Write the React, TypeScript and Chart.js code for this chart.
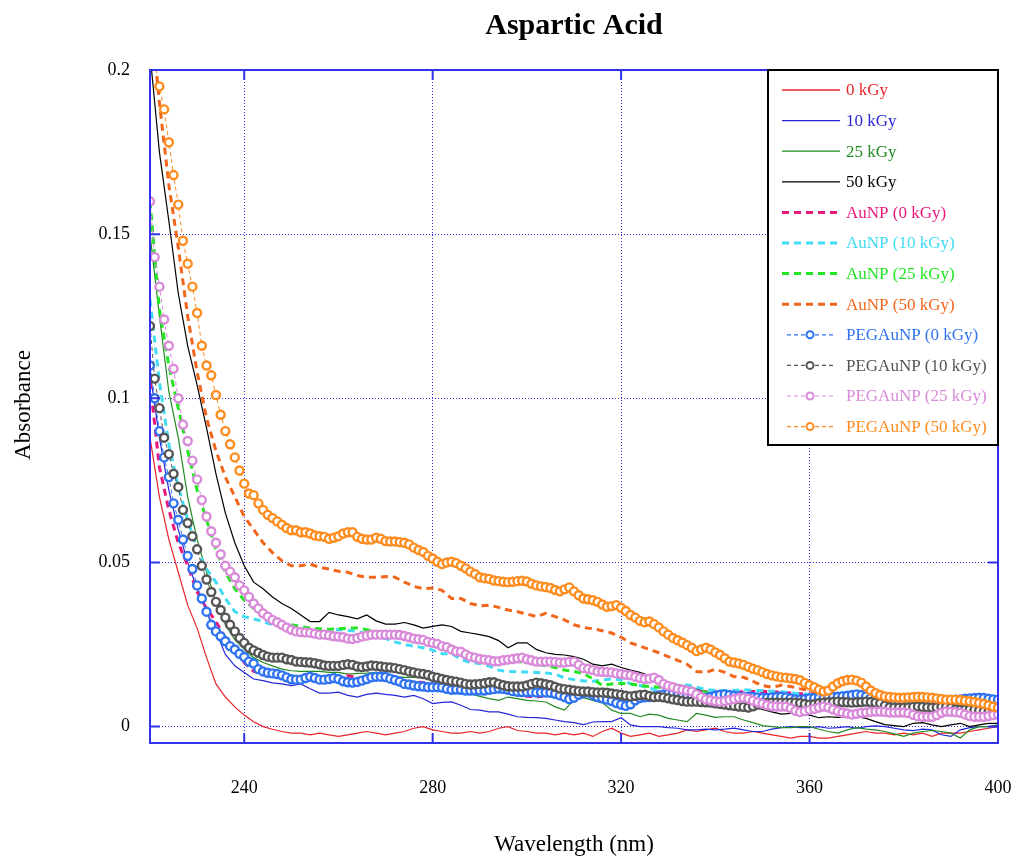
import React, { useEffect, useRef } from "react";
import { Chart, registerables } from "chart.js";

Chart.register(...registerables);

// ---------- data ----------
const WL_STEP2 = Array.from({ length: 91 }, (_, i) => 220 + 2 * i);
const WL_STEP1 = Array.from({ length: 181 }, (_, i) => 220 + i);

const X_TICKS = [240, 280, 320, 360, 400];
const Y_TICKS = [0, 0.05, 0.1, 0.15, 0.2];
const Y_TICK_LABELS = ["0", "0.05", "0.1", "0.15", "0.2"];

const KGY0 = [
  0.088, 0.07, 0.057, 0.047, 0.037, 0.03, 0.021, 0.013, 0.009, 0.006,
  0.0035, 0.0015, 0, -0.0008, -0.0015, -0.002, -0.002, -0.0025, -0.002, -0.0025,
  -0.003, -0.0025, -0.002, -0.0015, -0.002, -0.0025, -0.002, -0.0015, -0.0005, 0,
  -0.001, -0.0015, -0.002, -0.002, -0.0015, -0.002, -0.0015, -0.0005, 0, -0.0012,
  -0.0015, -0.002, -0.002, -0.0025, -0.002, -0.0025, -0.002, -0.003, -0.0015, -0.0005,
  -0.002, -0.003, -0.0025, -0.002, -0.003, -0.0025, -0.002, -0.001, -0.0015, -0.001,
  -0.0005, -0.0015, -0.002, -0.002, -0.0015, -0.002, -0.0025, -0.003, -0.0035, -0.003,
  -0.003, -0.0035, -0.0035, -0.003, -0.0025, -0.002, -0.0015, -0.002, -0.002, -0.0025,
  -0.002, -0.0025, -0.002, -0.003, -0.002, -0.002, -0.002, -0.0015, -0.001, -0.0005,
  0,
];
const KGY10 = [
  0.108, 0.088, 0.072, 0.06, 0.05, 0.042, 0.035, 0.029, 0.022, 0.0185,
  0.0165, 0.0145, 0.014, 0.0133, 0.013, 0.0125, 0.013, 0.0115, 0.0102, 0.0102,
  0.0105, 0.0095, 0.009, 0.0098, 0.0102, 0.0098, 0.0095, 0.009, 0.0095, 0.0085,
  0.007, 0.0074, 0.0075, 0.0065, 0.0052, 0.005, 0.0045, 0.0045, 0.0038, 0.003,
  0.0028, 0.0027, 0.0025, 0.002, 0.0015, 0.0012, 0.0006, 0.0014, 0.0015, 0.0015,
  0.0027, 0.0005, 0, 0, 0, -0.0003, -0.0005, -0.001, -0.001, -0.0008,
  -0.001, -0.0008, -0.0005, -0.001, -0.0015, -0.0015, -0.0008, -0.0003, 0, -0.0003,
  -0.0003, 0, -0.0005, -0.0003, 0, -0.0005, 0, 0.0002, 0, -0.0005,
  -0.001, -0.0012, -0.0008, -0.001, -0.0025, -0.003, -0.001, -0.0003, 0, 0,
  0,
];
const KGY25 = [
  0.15, 0.125, 0.102, 0.088, 0.07, 0.057, 0.047, 0.038, 0.031, 0.0265,
  0.0235, 0.021, 0.0195, 0.0185, 0.0175, 0.017, 0.0168, 0.0168, 0.0168, 0.0165,
  0.0165, 0.016, 0.0162, 0.0163, 0.0165, 0.016, 0.0152, 0.015, 0.015, 0.0148,
  0.0138, 0.013, 0.012, 0.011, 0.01, 0.0092, 0.0085, 0.008, 0.009, 0.0085,
  0.008, 0.0078, 0.0075, 0.006, 0.005, 0.0082, 0.0088, 0.008, 0.0073, 0.005,
  0.004, 0.004, 0.003, 0.0038, 0.0035, 0.0025, 0.002, 0.0015, 0.004, 0.0035,
  0.0028, 0.003, 0.003, 0.002, 0.0012, 0.0003, 0, -0.0003, -0.0003, 0,
  0, -0.0008, -0.0015, -0.002, -0.001, -0.0003, -0.0008, -0.001, -0.0015, -0.0022,
  -0.003, -0.002, -0.0015, -0.0012, -0.0015, -0.002, -0.0035, -0.001, 0, 0,
  0.0005,
];
const KGY50 = [
  0.205, 0.175, 0.154, 0.132, 0.116, 0.104, 0.091, 0.077, 0.065, 0.056,
  0.049, 0.044, 0.042, 0.0395, 0.0375, 0.036, 0.034, 0.032, 0.032, 0.0348,
  0.034, 0.0335, 0.0328, 0.034, 0.0322, 0.0312, 0.0312, 0.0317, 0.031, 0.03,
  0.0305, 0.031, 0.0305, 0.029, 0.0285, 0.028, 0.0274, 0.0262, 0.024, 0.0255,
  0.0255, 0.0235, 0.0225, 0.022, 0.0218, 0.0213, 0.0205, 0.019, 0.0185, 0.019,
  0.018, 0.0172, 0.0165, 0.0155, 0.0145, 0.0135, 0.0128, 0.0122, 0.0115, 0.0105,
  0.0095, 0.0085, 0.0075, 0.0068, 0.006, 0.0052, 0.0045, 0.0038, 0.004, 0.0042,
  0.0035, 0.0027, 0.003, 0.0028, 0.003, 0.003, 0.0025, 0.0015, 0.0006, 0.0003,
  0, 0.001, 0.0012, 0.0005, 0, 0.0005, 0.001, 0, 0.0005, 0.001,
  0.001,
];
const AUNP0 = [
  0.105, 0.079, 0.066, 0.056, 0.049, 0.041, 0.036, 0.032, 0.027, 0.023,
  0.0195, 0.0168, 0.0162, 0.0158, 0.0155, 0.0152, 0.015, 0.015, 0.015, 0.015,
  0.015, 0.0155, 0.015, 0.0146, 0.0145, 0.0142, 0.014, 0.0138, 0.0136, 0.0134,
  0.013, 0.0128, 0.0126, 0.0124, 0.0122, 0.012, 0.0118, 0.011, 0.0105, 0.0098,
  0.0092, 0.009, 0.0095, 0.01, 0.0105, 0.011, 0.0112, 0.011, 0.0088, 0.0076,
  0.008, 0.0088, 0.0095, 0.01, 0.0102, 0.0105, 0.0105, 0.0106, 0.0107, 0.0107,
  0.0106, 0.0105, 0.0105, 0.0106, 0.0107, 0.0107, 0.0106, 0.0104, 0.0102, 0.01,
  0.0099, 0.0098, 0.0097, 0.0092, 0.0087, 0.0082, 0.0078, 0.0076, 0.0074, 0.0072,
  0.007, 0.0068, 0.0066, 0.0064, 0.0062, 0.0061, 0.006, 0.0058, 0.0056, 0.0052,
  0.005,
];
const AUNP10 = [
  0.13, 0.105, 0.086, 0.073, 0.063, 0.054, 0.048, 0.044, 0.039, 0.035,
  0.0335, 0.0328, 0.032, 0.031, 0.0303, 0.03, 0.0296, 0.029, 0.0287, 0.029,
  0.0296, 0.0293, 0.029, 0.0282, 0.0272, 0.0268, 0.0258, 0.025, 0.0245, 0.024,
  0.0233, 0.0222, 0.0222, 0.0205, 0.0195, 0.0192, 0.0184, 0.0172, 0.0168, 0.0167,
  0.0166, 0.0165, 0.0163, 0.016, 0.0148, 0.0143, 0.0139, 0.0138, 0.0142, 0.0145,
  0.0143, 0.013, 0.0125, 0.0118, 0.0108, 0.0108, 0.012, 0.0127, 0.012, 0.0113,
  0.011, 0.011, 0.011, 0.0112, 0.011, 0.011, 0.0108, 0.0106, 0.0103, 0.01,
  0.0098, 0.0098, 0.01, 0.0102, 0.0104, 0.0102, 0.01, 0.0098, 0.0098, 0.0097,
  0.0097, 0.0098, 0.0097, 0.0095, 0.0093, 0.009, 0.009, 0.009, 0.0089, 0.0088,
  0.0088,
];
const AUNP25 = [
  0.16, 0.127, 0.11, 0.097, 0.084, 0.072, 0.063, 0.054, 0.047, 0.042,
  0.0385, 0.036, 0.034, 0.0325, 0.0315, 0.031, 0.0305, 0.03, 0.0298, 0.0296,
  0.0298, 0.03, 0.03, 0.0295, 0.029, 0.0285, 0.0278, 0.027, 0.0262, 0.0255,
  0.025, 0.0242, 0.0235, 0.0228, 0.0222, 0.0215, 0.021, 0.0205, 0.02, 0.0198,
  0.0196, 0.0192, 0.0185, 0.018, 0.0172, 0.0168, 0.0162, 0.0145, 0.0125, 0.013,
  0.0132, 0.013, 0.0125, 0.0122, 0.012, 0.0118, 0.0115, 0.0112, 0.011, 0.0105,
  0.01, 0.0099, 0.0098, 0.0098, 0.0098, 0.0098, 0.0096, 0.0094, 0.0091, 0.0089,
  0.0088, 0.0087, 0.0086, 0.0085, 0.0084, 0.0083, 0.0081, 0.008, 0.0078, 0.0076,
  0.0074, 0.0072, 0.007, 0.0068, 0.0065, 0.0062, 0.006, 0.0058, 0.0058, 0.0058,
  0.0058,
];
const AUNP50 = [
  0.22, 0.19, 0.165, 0.146, 0.125, 0.108, 0.094, 0.084, 0.076, 0.07,
  0.064, 0.06, 0.056, 0.053, 0.0505, 0.049, 0.049, 0.0495, 0.0485, 0.048,
  0.0473, 0.047, 0.046, 0.0455, 0.0455, 0.0457, 0.0455, 0.044, 0.0427, 0.042,
  0.0422, 0.0415, 0.039, 0.039, 0.0375, 0.0368, 0.037, 0.0363, 0.0355, 0.035,
  0.0343, 0.0335, 0.0345, 0.0335, 0.0325, 0.031, 0.0302, 0.0298, 0.0292, 0.0285,
  0.0272, 0.0255, 0.0245, 0.0235, 0.0225, 0.0213, 0.0202, 0.019, 0.0168, 0.0165,
  0.0175, 0.0165, 0.0152, 0.015, 0.0138, 0.0125, 0.012, 0.0126, 0.0122, 0.0115,
  0.011, 0.0102, 0.0098, 0.01, 0.0103, 0.0098, 0.0093, 0.009, 0.0088, 0.0086,
  0.0084, 0.0082, 0.0081, 0.008, 0.0078, 0.0076, 0.0075, 0.0075, 0.0074, 0.0073,
  0.0073,
];
const PEG0 = [
  0.11, 0.1, 0.09, 0.082, 0.076, 0.068, 0.063, 0.057, 0.052, 0.048,
  0.043, 0.039, 0.035, 0.031, 0.029, 0.0275, 0.026, 0.0245, 0.0235, 0.0222,
  0.0212, 0.0198, 0.0192, 0.0175, 0.0168, 0.0164, 0.0162, 0.016, 0.0156, 0.015,
  0.0144, 0.0143, 0.0143, 0.0148, 0.0152, 0.0148, 0.0143, 0.0143, 0.0145, 0.0148,
  0.0145, 0.0138, 0.0135, 0.0134, 0.0136, 0.014, 0.0145, 0.015, 0.0152, 0.0152,
  0.0151, 0.0146, 0.0142, 0.0137, 0.013, 0.0128, 0.0125, 0.0123, 0.0122, 0.012,
  0.012, 0.012, 0.0119, 0.0115, 0.0112, 0.0113, 0.0112, 0.011, 0.011, 0.011,
  0.011, 0.011, 0.0112, 0.0114, 0.0116, 0.0115, 0.0112, 0.0108, 0.0106, 0.0105,
  0.0105, 0.0105, 0.0104, 0.0104, 0.0104, 0.0103, 0.01, 0.0095, 0.009, 0.0084,
  0.0088, 0.0097, 0.0102, 0.0104, 0.0097, 0.009, 0.0086, 0.0082, 0.0078, 0.0072,
  0.0067, 0.0063, 0.0068, 0.008, 0.0087, 0.0089, 0.009, 0.0092, 0.0095, 0.0098,
  0.01, 0.0102, 0.0104, 0.0098, 0.0094, 0.0091, 0.009, 0.0089, 0.0088, 0.0091,
  0.0094, 0.0097, 0.0098, 0.0096, 0.0094, 0.0092, 0.0091, 0.009, 0.009, 0.0089,
  0.0088, 0.0088, 0.0089, 0.009, 0.0091, 0.0089, 0.0086, 0.0083, 0.0082, 0.0084,
  0.0086, 0.0087, 0.0088, 0.0089, 0.009, 0.009, 0.0091, 0.0092, 0.0094, 0.0096,
  0.0098, 0.0096, 0.0092, 0.0088, 0.0084, 0.0082, 0.008, 0.0078, 0.0077, 0.0076,
  0.0075, 0.0074, 0.0073, 0.0074, 0.0075, 0.0076, 0.0076, 0.0077, 0.0079, 0.008,
  0.0081, 0.0082, 0.0083, 0.0085, 0.0086, 0.0087, 0.0088, 0.0087, 0.0085, 0.0083,
  0.0082,
];
const PEG10 = [
  0.122, 0.106, 0.097, 0.088, 0.083, 0.077, 0.073, 0.066, 0.062, 0.058,
  0.054, 0.049, 0.0448, 0.041, 0.038, 0.0355, 0.0332, 0.031, 0.029, 0.027,
  0.0255, 0.024, 0.0232, 0.0225, 0.0218, 0.0213, 0.021, 0.021, 0.021, 0.0205,
  0.0203, 0.0198, 0.0197, 0.0196, 0.0195, 0.0193, 0.019, 0.0186, 0.0185, 0.0185,
  0.0185, 0.0188, 0.019, 0.0188, 0.0183, 0.0181, 0.0183, 0.0186, 0.0185, 0.0183,
  0.0181, 0.018, 0.0178, 0.0175, 0.0172, 0.0168, 0.0165, 0.0162, 0.016, 0.0157,
  0.0152, 0.0149, 0.0145, 0.0142, 0.0139, 0.0137, 0.0134, 0.013, 0.0128, 0.0129,
  0.013, 0.0132, 0.0135, 0.0135, 0.013, 0.0126, 0.0123, 0.0122, 0.0122, 0.0122,
  0.0125, 0.013, 0.0134, 0.0132, 0.0129, 0.0126, 0.0121, 0.0116, 0.0114, 0.0112,
  0.011, 0.0108, 0.0107, 0.0107, 0.0105, 0.0104, 0.0104, 0.0103, 0.0101, 0.0099,
  0.0097, 0.0094, 0.0092, 0.0094, 0.0096, 0.0097, 0.0093, 0.009, 0.0091, 0.0089,
  0.0086, 0.0083, 0.0081, 0.0078, 0.0076, 0.0076, 0.0076, 0.0075, 0.0074, 0.0073,
  0.0071, 0.0069, 0.0067, 0.0065, 0.0063, 0.0061, 0.006, 0.0058, 0.0062, 0.0067,
  0.0071, 0.0073, 0.0073, 0.0073, 0.0073, 0.0073, 0.0073, 0.0073, 0.0072, 0.0069,
  0.0067, 0.0068, 0.0071, 0.0073, 0.0074, 0.0075, 0.0076, 0.0075, 0.0074, 0.0073,
  0.0074, 0.0075, 0.0076, 0.0075, 0.0073, 0.0071, 0.0064, 0.0059, 0.0058, 0.0058,
  0.0058, 0.0059, 0.006, 0.0061, 0.006, 0.0059, 0.0058, 0.0059, 0.006, 0.0061,
  0.0057, 0.0053, 0.0052, 0.0052, 0.0052, 0.0051, 0.0049, 0.0047, 0.0046, 0.0046,
  0.0046,
];
const PEG25 = [
  0.16, 0.143, 0.134, 0.124, 0.116, 0.109, 0.1, 0.092, 0.087, 0.081,
  0.0753, 0.069, 0.064, 0.0595, 0.056, 0.0525, 0.049, 0.0472, 0.0455, 0.043,
  0.0415, 0.0395, 0.0375, 0.036, 0.0345, 0.0335, 0.0325, 0.0318, 0.031, 0.0302,
  0.0295, 0.029, 0.0288, 0.0287, 0.0286, 0.0283, 0.028, 0.028, 0.0278, 0.0275,
  0.0274, 0.0272, 0.0268, 0.0267, 0.027, 0.0274, 0.0277, 0.028, 0.028, 0.028,
  0.028, 0.028, 0.028, 0.0279, 0.0276, 0.0272, 0.0268, 0.0266, 0.0264, 0.0258,
  0.0255, 0.0252, 0.0245, 0.0242, 0.0235, 0.0229, 0.0228, 0.022, 0.0213, 0.021,
  0.0206, 0.0204, 0.0202, 0.0199, 0.0199, 0.0202, 0.0204, 0.0206, 0.0208, 0.021,
  0.0205, 0.0202, 0.0198, 0.0198, 0.0198, 0.0198, 0.0197, 0.0195, 0.0195, 0.0197,
  0.0198, 0.0188, 0.0178, 0.0176, 0.0172, 0.0168, 0.0167, 0.0166, 0.0165, 0.0162,
  0.016, 0.0158, 0.0156, 0.0152, 0.0148, 0.0145, 0.0146, 0.0149, 0.0142, 0.013,
  0.0124, 0.012, 0.0115, 0.0112, 0.011, 0.0107, 0.0098, 0.009, 0.0083, 0.008,
  0.0077, 0.0076, 0.0078, 0.0081, 0.0084, 0.0087, 0.0088, 0.0085, 0.0079, 0.0074,
  0.007, 0.0065, 0.0062, 0.0061, 0.0061, 0.0061, 0.0056, 0.0048, 0.0044, 0.0047,
  0.0051, 0.0054, 0.0058, 0.0061, 0.0058, 0.0052, 0.0047, 0.0043, 0.004, 0.0037,
  0.0039, 0.0042, 0.0043, 0.0045, 0.0046, 0.0046, 0.0045, 0.0043, 0.0043, 0.0043,
  0.0043, 0.0041, 0.0036, 0.0031, 0.003, 0.003, 0.003, 0.0035, 0.0042, 0.0046,
  0.0045, 0.0044, 0.0042, 0.0037, 0.0032, 0.003, 0.003, 0.003, 0.0032, 0.0035,
  0.0037,
];
const PEG50 = [
  0.215, 0.203, 0.195, 0.188, 0.178, 0.168, 0.159, 0.148, 0.141, 0.134,
  0.126, 0.116, 0.11, 0.107, 0.101, 0.095, 0.09, 0.086, 0.082, 0.078,
  0.074, 0.071, 0.0705, 0.068, 0.066, 0.0645, 0.0635, 0.0625, 0.0615, 0.0605,
  0.0598, 0.0598, 0.0592, 0.0592, 0.0588, 0.0582, 0.058, 0.0578, 0.0572, 0.0575,
  0.058, 0.0588, 0.0592, 0.0592, 0.0578, 0.0572, 0.057, 0.057, 0.0575, 0.0572,
  0.0565, 0.0564, 0.0564, 0.0562, 0.056, 0.0555, 0.0545, 0.0538, 0.0532, 0.052,
  0.0512, 0.0502, 0.0495, 0.05, 0.0502, 0.0498, 0.049, 0.0482, 0.0472, 0.0465,
  0.0455, 0.0452, 0.045, 0.0445, 0.0443, 0.0441, 0.044, 0.0441, 0.0443, 0.0444,
  0.0442, 0.0435, 0.043, 0.0427, 0.0425, 0.0422, 0.0416, 0.0412, 0.0418, 0.0424,
  0.0412, 0.04, 0.039, 0.0388, 0.0385, 0.038, 0.0372, 0.0365, 0.0367, 0.037,
  0.0362, 0.0352, 0.034, 0.0332, 0.0322, 0.0318, 0.032, 0.0312, 0.0302, 0.029,
  0.028, 0.027, 0.0263, 0.0256, 0.0248, 0.024, 0.023, 0.0235, 0.024, 0.0235,
  0.0226, 0.0218, 0.0208, 0.0198, 0.0195, 0.0192, 0.0188, 0.0182, 0.0176, 0.0172,
  0.0166, 0.016, 0.0156, 0.0153, 0.015, 0.0149, 0.0147, 0.0145, 0.0141, 0.0133,
  0.0126, 0.012, 0.0112, 0.0107, 0.011, 0.0122, 0.0132, 0.0138, 0.0142, 0.0143,
  0.014, 0.0134, 0.0122, 0.011, 0.0102, 0.0096, 0.0092, 0.009, 0.0089, 0.0088,
  0.0088, 0.0089, 0.009, 0.0091, 0.009, 0.0089, 0.0088, 0.0086, 0.0084, 0.0082,
  0.0082, 0.0082, 0.0081, 0.0079, 0.0077, 0.0075, 0.0072, 0.0069, 0.0065, 0.0061,
  0.0058,
];

type Kind = "solid" | "dash" | "marker";
const SERIES: { label: string; x: number[]; y: number[]; color: string; kind: Kind }[] = [
  { label: "0 kGy", x: WL_STEP2, y: KGY0, color: "#e8252b", kind: "solid" },
  { label: "10 kGy", x: WL_STEP2, y: KGY10, color: "#2626d6", kind: "solid" },
  { label: "25 kGy", x: WL_STEP2, y: KGY25, color: "#238a23", kind: "solid" },
  { label: "50 kGy", x: WL_STEP2, y: KGY50, color: "#000000", kind: "solid" },
  { label: "AuNP (0 kGy)", x: WL_STEP2, y: AUNP0, color: "#e8177c", kind: "dash" },
  { label: "AuNP (10 kGy)", x: WL_STEP2, y: AUNP10, color: "#3fdcf4", kind: "dash" },
  { label: "AuNP (25 kGy)", x: WL_STEP2, y: AUNP25, color: "#22e622", kind: "dash" },
  { label: "AuNP (50 kGy)", x: WL_STEP2, y: AUNP50, color: "#f2661c", kind: "dash" },
  { label: "PEGAuNP (0 kGy)", x: WL_STEP1, y: PEG0, color: "#2f73f2", kind: "marker" },
  { label: "PEGAuNP (10 kGy)", x: WL_STEP1, y: PEG10, color: "#555555", kind: "marker" },
  { label: "PEGAuNP (25 kGy)", x: WL_STEP1, y: PEG25, color: "#d98ad9", kind: "marker" },
  { label: "PEGAuNP (50 kGy)", x: WL_STEP1, y: PEG50, color: "#ff8c1e", kind: "marker" },
];

const FONT = "'Liberation Serif', 'Times New Roman', serif";
const AXIS_BLUE = "#3232ec";

function drawLegend(ctx: CanvasRenderingContext2D) {
  const bx = 768, by = 70, bw = 230, bh = 375;
  ctx.save();
  ctx.fillStyle = "#ffffff";
  ctx.fillRect(bx, by, bw, bh);
  ctx.strokeStyle = "#000000";
  ctx.lineWidth = 2;
  ctx.strokeRect(bx, by, bw, bh);
  ctx.font = `17px ${FONT}`;
  ctx.textBaseline = "middle";
  ctx.textAlign = "left";
  SERIES.forEach((s, i) => {
    const y = 90 + i * 30.6;
    ctx.strokeStyle = s.color;
    ctx.beginPath();
    if (s.kind === "solid") {
      ctx.lineWidth = 1.3;
      ctx.setLineDash([]);
      ctx.moveTo(782, y);
      ctx.lineTo(840, y);
      ctx.stroke();
    } else if (s.kind === "dash") {
      ctx.lineWidth = 3;
      ctx.setLineDash([7, 5]);
      ctx.moveTo(782, y);
      ctx.lineTo(840, y);
      ctx.stroke();
    } else {
      ctx.lineWidth = 1.2;
      ctx.setLineDash([4, 3]);
      ctx.moveTo(787, y);
      ctx.lineTo(835, y);
      ctx.stroke();
      ctx.setLineDash([]);
      ctx.beginPath();
      ctx.fillStyle = "#ffffff";
      ctx.lineWidth = 2;
      ctx.arc(810, y, 3.5, 0, Math.PI * 2);
      ctx.fill();
      ctx.stroke();
    }
    ctx.setLineDash([]);
    ctx.fillStyle = s.color;
    ctx.fillText(s.label, 846, y + 1);
  });
  ctx.restore();
}

const decorPlugin = {
  id: "decor",
  afterDatasetsDraw(chart: any) {
    const { ctx, chartArea: a, scales } = chart;
    ctx.save();
    ctx.strokeStyle = AXIS_BLUE;
    ctx.lineWidth = 2;
    ctx.setLineDash([]);
    ctx.strokeRect(a.left, a.top, a.right - a.left, a.bottom - a.top);
    ctx.beginPath();
    X_TICKS.forEach((v) => {
      const x = scales.x.getPixelForValue(v);
      ctx.moveTo(x, a.bottom);
      ctx.lineTo(x, a.bottom - 10);
      ctx.moveTo(x, a.top);
      ctx.lineTo(x, a.top + 10);
    });
    Y_TICKS.forEach((v) => {
      const y = scales.y.getPixelForValue(v);
      ctx.moveTo(a.left, y);
      ctx.lineTo(a.left + 10, y);
      ctx.moveTo(a.right, y);
      ctx.lineTo(a.right - 10, y);
    });
    ctx.stroke();
    ctx.restore();
    drawLegend(ctx);
  },
  afterDraw(chart: any) {
    const { ctx, chartArea: a } = chart;
    const cx = (a.left + a.right) / 2;
    ctx.save();
    ctx.fillStyle = "#000000";
    ctx.textAlign = "center";
    ctx.textBaseline = "middle";
    ctx.font = `bold 30px ${FONT}`;
    ctx.fillText("Aspartic Acid", cx, 26);
    ctx.font = `23px ${FONT}`;
    ctx.fillText("Wavelength (nm)", cx, 845);
    ctx.translate(24, 405);
    ctx.rotate(-Math.PI / 2);
    ctx.fillText("Absorbance", 0, 0);
    ctx.restore();
  },
};

export default function App() {
  const ref = useRef<HTMLCanvasElement | null>(null);

  useEffect(() => {
    if (!ref.current) return;
    const n = SERIES.length;
    const datasets = SERIES.map((s, i) => {
      const base: any = {
        label: s.label,
        data: s.x.map((x, j) => ({ x, y: s.y[j] })),
        borderColor: s.color,
        backgroundColor: s.color,
        fill: false,
        tension: 0,
        order: n - i,
      };
      if (s.kind === "solid") {
        return { ...base, borderWidth: 1.2, pointRadius: 0 };
      }
      if (s.kind === "dash") {
        return { ...base, borderWidth: 3, borderDash: [7, 5], pointRadius: 0 };
      }
      return {
        ...base,
        borderWidth: 1,
        borderDash: [4, 3],
        pointRadius: 4,
        pointBorderWidth: 2.4,
        pointBorderColor: s.color,
        pointBackgroundColor: "#ffffff",
        pointStyle: "circle",
      };
    });

    const chart = new Chart(ref.current, {
      type: "line",
      data: { datasets },
      options: {
        responsive: false,
        animation: false,
        devicePixelRatio: 1,
        layout: { padding: { top: 70, right: 18, left: 0, bottom: 0 } },
        plugins: {
          legend: { display: false },
          title: { display: false },
          tooltip: { enabled: false },
        },
        scales: {
          x: {
            type: "linear",
            min: 220,
            max: 400,
            afterFit: (scale: any) => {
              scale.height = 116;
              scale.paddingLeft = 0;
              scale.paddingRight = 0;
            },
            afterBuildTicks: (scale: any) => {
              scale.ticks = X_TICKS.map((v) => ({ value: v }));
            },
            grid: { color: AXIS_BLUE, lineWidth: 1, drawTicks: false },
            border: { display: false, dash: [1, 2] },
            ticks: {
              padding: 34,
              color: "#000000",
              font: { family: FONT, size: 18 },
              maxRotation: 0,
              callback: (v: any) => String(v),
            },
          },
          y: {
            type: "linear",
            min: -0.005,
            max: 0.2,
            afterFit: (scale: any) => {
              scale.width = 150;
              scale.paddingTop = 0;
              scale.paddingBottom = 0;
            },
            afterBuildTicks: (scale: any) => {
              scale.ticks = Y_TICKS.map((v) => ({ value: v }));
            },
            grid: { color: AXIS_BLUE, lineWidth: 1, drawTicks: false },
            border: { display: false, dash: [1, 2] },
            ticks: {
              padding: 20,
              color: "#000000",
              font: { family: FONT, size: 18 },
              callback: (v: any) => {
                const k = Y_TICKS.indexOf(v);
                return k >= 0 ? Y_TICK_LABELS[k] : "";
              },
            },
          },
        },
      },
      plugins: [decorPlugin],
    } as any);
    return () => chart.destroy();
  }, []);

  return (
    <div style={{ position: "fixed", left: 0, top: 0, width: 1016, height: 859, background: "#ffffff" }}>
      <canvas ref={ref} width={1016} height={859} style={{ display: "block" }} />
    </div>
  );
}
